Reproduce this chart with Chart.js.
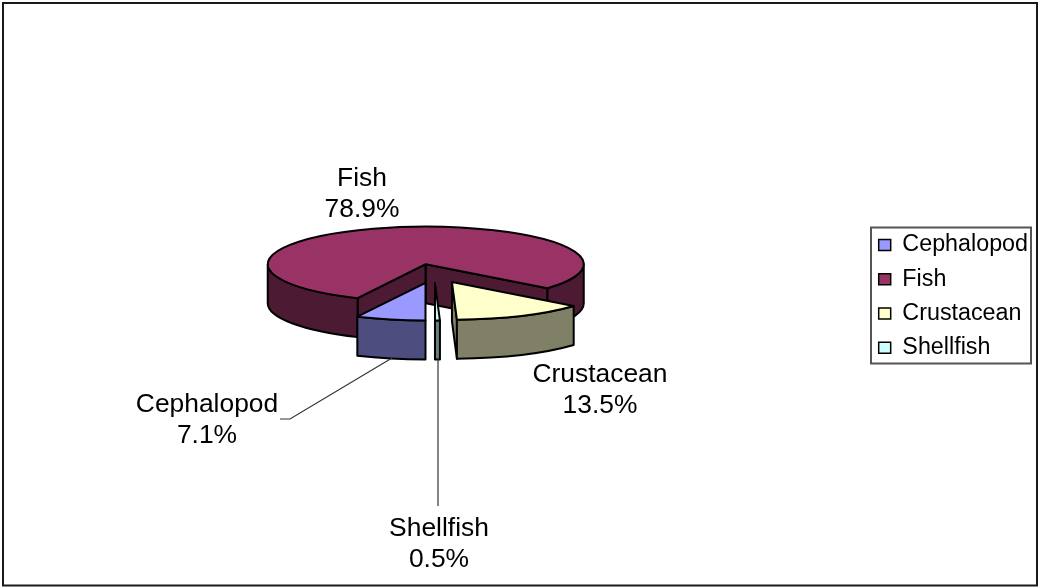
<!DOCTYPE html>
<html>
<head>
<meta charset="utf-8">
<style>html,body{margin:0;padding:0;background:#fff}canvas{display:block}</style>
<script src="https://cdn.jsdelivr.net/npm/chart.js@4/dist/chart.umd.js"></script>
</head>
<body>
<canvas id="c" width="1039" height="587"></canvas>
<script>
const categories = ['Cephalopod', 'Fish', 'Crustacean', 'Shellfish'];
const shares = [7.1, 78.9, 13.5, 0.5];
const topColors = ['#9999FF', '#993366', '#FFFFCC', '#CCFFFF'];
const wallColors = ['#4D4D80', '#4D1A33', '#808066', '#668080'];

// presentation settings
const SQUASH = 0.238, DEPTH = 39, EXPLODE = 40;
const FONT = '"Liberation Sans", Arial, sans-serif';
const labelCentres = [[207, 404.5], [362, 178.5], [600, 374.5], [439, 528.5]];
const LABEL_LINE = 31;
const leaders = [
  [[280, 419], [290, 419], [392, 358]],
  [[438, 359], [438, 506]]
];

function geom(arc) {
  const mid = (arc.startAngle + arc.endAngle) / 2;
  return {
    ax: arc.x + Math.cos(mid) * EXPLODE,
    ay: arc.y + Math.sin(mid) * EXPLODE * SQUASH,
    r: arc.outerRadius, ry: arc.outerRadius * SQUASH,
    s: arc.startAngle, e: arc.endAngle, mid
  };
}
function face(ctx, pts, fill) {
  ctx.beginPath();
  pts.forEach((p, i) => i ? ctx.lineTo(p[0], p[1]) : ctx.moveTo(p[0], p[1]));
  ctx.closePath();
  ctx.fillStyle = fill; ctx.fill(); ctx.stroke();
}
function drawWalls(ctx, arc, color) {
  const g = geom(arc);
  const edge = a => [g.ax + g.r * Math.cos(a), g.ay + g.ry * Math.sin(a)];
  const cut = a => {
    const p = edge(a);
    face(ctx, [[g.ax, g.ay], p, [p[0], p[1] + DEPTH], [g.ax, g.ay + DEPTH]], color);
  };
  if (Math.sin(g.s - Math.PI / 2) > 1e-6) cut(g.s);
  if (Math.sin(g.e + Math.PI / 2) > 1e-6) cut(g.e);
  // outer rim: only the part on the front half of the ellipse
  for (let n = -1; n <= 2; n++) {
    const lo = Math.max(g.s, n * 2 * Math.PI), hi = Math.min(g.e, n * 2 * Math.PI + Math.PI);
    if (hi <= lo) continue;
    ctx.beginPath();
    ctx.ellipse(g.ax, g.ay, g.r, g.ry, 0, lo, hi);
    ctx.ellipse(g.ax, g.ay + DEPTH, g.r, g.ry, 0, hi, lo, true);
    ctx.closePath();
    ctx.fillStyle = color; ctx.fill(); ctx.stroke();
  }
}

const pie3d = {
  id: 'pie3d',
  beforeDraw(chart) {
    const ctx = chart.ctx;
    ctx.save();
    ctx.strokeStyle = '#1a1a1a'; ctx.lineWidth = 2;
    ctx.strokeRect(3, 3, 1034, 582.5);
    ctx.restore();
  },
  afterLayout(chart) {
    const l = chart.legend;
    const h = l.height, w = l.width;
    l.left = 867.7; l.right = l.left + w;
    l.top = 222.3; l.bottom = l.top + h;
  },
  beforeDatasetDraw(chart, args) {
    const ctx = chart.ctx;
    const arcs = chart.getDatasetMeta(args.index).data;
    const order = arcs.map((a, i) => i)
      .sort((i, j) => Math.sin(geom(arcs[i]).mid) - Math.sin(geom(arcs[j]).mid));
    ctx.save();
    ctx.strokeStyle = '#000'; ctx.lineWidth = 2; ctx.lineJoin = 'round';
    order.forEach(i => drawWalls(ctx, arcs[i], wallColors[i]));
    order.forEach(i => {
      const g = geom(arcs[i]);
      ctx.save();
      ctx.translate(g.ax, g.ay);
      ctx.scale(1, SQUASH);
      ctx.translate(-arcs[i].x, -arcs[i].y);
      arcs[i].draw(ctx);
      ctx.restore();
      ctx.beginPath();
      ctx.moveTo(g.ax, g.ay);
      ctx.ellipse(g.ax, g.ay, g.r, g.ry, 0, g.s, g.e);
      ctx.closePath();
      ctx.stroke();
    });
    ctx.restore();
    return false;
  },
  afterDraw(chart) {
    const ctx = chart.ctx;
    ctx.save();
    // legend frame
    ctx.strokeStyle = '#555'; ctx.lineWidth = 2;
    ctx.strokeRect(871, 227.5, 160, 136);
    // leader lines
    ctx.strokeStyle = '#333'; ctx.lineWidth = 1.2;
    leaders.forEach(line => {
      ctx.beginPath();
      line.forEach((p, i) => i ? ctx.lineTo(p[0], p[1]) : ctx.moveTo(p[0], p[1]));
      ctx.stroke();
    });
    // data labels
    ctx.fillStyle = '#000';
    ctx.font = '26.4px ' + FONT;
    ctx.textAlign = 'center'; ctx.textBaseline = 'middle';
    categories.forEach((name, i) => {
      const [x, y] = labelCentres[i];
      ctx.fillText(name, x, y);
      ctx.fillText(shares[i].toFixed(1) + '%', x, y + LABEL_LINE);
    });
    ctx.restore();
  }
};

new Chart(document.getElementById('c'), {
  type: 'pie',
  data: {
    labels: categories,
    datasets: [{ data: shares, backgroundColor: topColors, borderWidth: 0 }]
  },
  options: {
    responsive: false,
    animation: false,
    rotation: 180,
    radius: 158,
    layout: { padding: { bottom: 40 } },
    plugins: {
      tooltip: { enabled: false },
      legend: {
        position: 'right',
        align: 'start',
        labels: {
          color: '#000',
          font: { family: FONT, size: 23.3 },
          boxWidth: 12,
          boxHeight: 11,
          padding: 11,
          generateLabels(chart) {
            return Chart.overrides.pie.plugins.legend.labels.generateLabels(chart)
              .map(it => Object.assign(it, { strokeStyle: '#000', lineWidth: 1.5 }));
          }
        }
      }
    }
  },
  plugins: [pie3d]
});
</script>
</body>
</html>
